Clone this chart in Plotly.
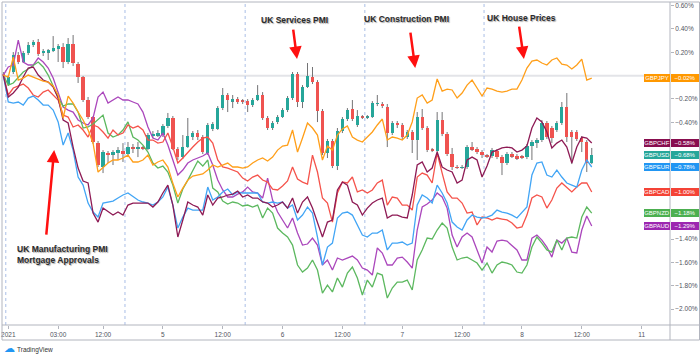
import plotly.graph_objects as go

# ---------------- data (percent change, hourly bars) ----------------
BARS = list(range(119))

OPEN = [0.014, -0.072, 0.031, 0.177, 0.117, 0.194, 0.262, 0.288, 0.194, 0.202,
        0.211, 0.228, 0.245, 0.117, 0.271, 0.099, -0.012, -0.209, -0.355, -0.578,
        -0.783, -0.663, -0.672, -0.663, -0.646, -0.672, -0.620, -0.625, -0.620, -0.629,
        -0.518, -0.509, -0.509, -0.432, -0.363, -0.629, -0.698, -0.612, -0.526, -0.492,
        -0.526, -0.663, -0.458, -0.458, -0.278, -0.166, -0.218, -0.201, -0.218, -0.218,
        -0.252, -0.209, -0.166, -0.363, -0.449, -0.398, -0.355, -0.295, -0.192, 0.014,
        -0.226, -0.098, -0.012, -0.055, -0.303, -0.663, -0.560, -0.775, -0.475, -0.372,
        -0.286, -0.423, -0.355, -0.359, -0.355, -0.243, -0.243, -0.269, -0.492, -0.406,
        -0.423, -0.526, -0.483, -0.552, -0.355, -0.449, -0.638, -0.646, -0.380, -0.500,
        -0.672, -0.783, -0.788, -0.783, -0.612, -0.629, -0.655, -0.689, -0.689, -0.646,
        -0.698, -0.749, -0.672, -0.689, -0.698, -0.698, -0.603, -0.569, -0.552, -0.406,
        -0.449, -0.466, -0.406, -0.269, -0.483, -0.483, -0.535, -0.569, -0.749]
HIGH = [0.031, 0.005, 0.202, 0.202, 0.211, 0.288, 0.305, 0.314, 0.228, 0.228,
        0.339, 0.271, 0.279, 0.322, 0.348, 0.117, -0.003, -0.183, -0.346, -0.560,
        -0.638, -0.646, -0.638, -0.612, -0.578, -0.569, -0.586, -0.569, -0.603, -0.492,
        -0.475, -0.466, -0.415, -0.320, -0.346, -0.612, -0.509, -0.363, -0.475, -0.466,
        -0.509, -0.406, -0.398, -0.261, -0.106, -0.149, -0.166, -0.183, -0.201, -0.201,
        -0.192, -0.081, -0.141, -0.346, -0.389, -0.338, -0.278, -0.175, 0.031, 0.031,
        -0.081, 0.108, 0.074, -0.038, -0.286, -0.543, -0.543, -0.449, -0.355, -0.278,
        -0.209, -0.295, -0.338, -0.338, -0.218, -0.166, -0.226, -0.243, -0.389, -0.389,
        -0.406, -0.466, -0.466, -0.312, -0.286, -0.432, -0.620, -0.312, -0.312, -0.483,
        -0.620, -0.766, -0.766, -0.595, -0.569, -0.612, -0.638, -0.672, -0.620, -0.629,
        -0.680, -0.655, -0.655, -0.672, -0.680, -0.586, -0.552, -0.535, -0.380, -0.389,
        -0.432, -0.389, -0.226, -0.149, -0.466, -0.466, -0.518, -0.552, -0.620]
LOW = [-0.021, -0.089, 0.014, 0.099, 0.108, 0.177, 0.245, 0.168, 0.168, 0.134,
       0.202, 0.117, 0.065, 0.099, 0.082, -0.063, -0.226, -0.372, -0.586, -0.783,
       -0.835, -0.749, -0.766, -0.723, -0.740, -0.698, -0.663, -0.698, -0.638, -0.638,
       -0.535, -0.526, -0.526, -0.449, -0.638, -0.723, -0.715, -0.620, -0.552, -0.552,
       -0.672, -0.680, -0.475, -0.466, -0.295, -0.312, -0.278, -0.243, -0.243, -0.312,
       -0.269, -0.218, -0.380, -0.466, -0.466, -0.415, -0.363, -0.312, -0.209, -0.269,
       -0.278, -0.106, -0.072, -0.398, -0.680, -0.706, -0.792, -0.809, -0.492, -0.389,
       -0.389, -0.440, -0.372, -0.372, -0.363, -0.261, -0.278, -0.612, -0.509, -0.449,
       -0.552, -0.543, -0.663, -0.723, -0.466, -0.655, -0.655, -0.655, -0.518, -0.689,
       -0.809, -0.800, -0.800, -0.800, -0.646, -0.672, -0.706, -0.706, -0.706, -0.715,
       -0.852, -0.766, -0.706, -0.723, -0.715, -0.715, -0.723, -0.620, -0.569, -0.543,
       -0.578, -0.483, -0.423, -0.569, -0.758, -0.560, -0.655, -0.826, -0.758]
CLOSE = [-0.003, -0.012, 0.177, 0.117, 0.194, 0.262, 0.288, 0.185, 0.211, 0.219,
         0.237, 0.254, 0.117, 0.271, 0.108, -0.012, -0.209, -0.355, -0.569, -0.766,
         -0.655, -0.680, -0.655, -0.638, -0.672, -0.612, -0.625, -0.620, -0.625, -0.509,
         -0.500, -0.492, -0.432, -0.363, -0.629, -0.698, -0.612, -0.518, -0.492, -0.526,
         -0.655, -0.423, -0.415, -0.278, -0.166, -0.209, -0.201, -0.226, -0.222, -0.252,
         -0.209, -0.166, -0.363, -0.449, -0.406, -0.355, -0.295, -0.192, 0.014, -0.226,
         -0.098, -0.003, -0.055, -0.303, -0.663, -0.560, -0.775, -0.475, -0.372, -0.295,
         -0.372, -0.346, -0.359, -0.355, -0.235, -0.235, -0.261, -0.492, -0.406, -0.423,
         -0.526, -0.483, -0.552, -0.355, -0.449, -0.638, -0.642, -0.380, -0.500, -0.672,
         -0.783, -0.788, -0.783, -0.612, -0.629, -0.655, -0.680, -0.693, -0.638, -0.698,
         -0.749, -0.672, -0.689, -0.706, -0.702, -0.603, -0.569, -0.552, -0.406, -0.526,
         -0.535, -0.406, -0.269, -0.526, -0.526, -0.543, -0.569, -0.749, -0.680]

GBPJPY = [0.005, -0.012, 0.159, -0.038, -0.021, 0.005, -0.012, -0.029, -0.047, -0.055,
          -0.089, -0.166, -0.363, -0.175, -0.235, -0.312, -0.380, -0.466, -0.578, -0.826,
          -0.783, -0.749, -0.723, -0.723, -0.706, -0.681, -0.740, -0.740, -0.723, -0.681,
          -0.766, -0.740, -0.723, -0.783, -0.921, -1.040, -0.964, -0.895, -0.860, -0.852,
          -0.843, -0.809, -0.766, -0.783, -0.766, -0.749, -0.783, -0.783, -0.792, -0.783,
          -0.749, -0.723, -0.706, -0.732, -0.698, -0.638, -0.603, -0.595, -0.466, -0.655,
          -0.535, -0.406, -0.449, -0.509, -0.723, -0.603, -0.638, -0.509, -0.457, -0.432,
          -0.526, -0.552, -0.569, -0.526, -0.483, -0.423, -0.372, -0.552, -0.526, -0.535,
          -0.552, -0.509, -0.397, -0.192, -0.166, -0.235, -0.209, -0.029, -0.132, -0.115,
          -0.123, -0.192, -0.149, -0.081, -0.038, -0.106, -0.175, -0.106, -0.115, -0.132,
          -0.141, -0.132, -0.115, -0.115, -0.038, 0.065, 0.125, 0.134, 0.108, 0.091,
          0.134, 0.151, 0.099, 0.091, 0.057, 0.091, 0.142, -0.038, -0.021]
GBPCHF = [0.005, -0.183, -0.149, -0.098, -0.012, 0.065, 0.074, 0.005, -0.038, -0.055,
          -0.098, -0.192, -0.380, -0.406, -0.612, -0.792, -0.903, -0.920, -1.178, -1.255,
          -1.135, -1.169, -1.195, -1.169, -1.195, -1.109, -1.092, -1.092, -1.092, -1.092,
          -1.126, -1.083, -1.006, -0.938, -1.109, -1.383, -1.237, -1.083, -1.109, -1.126,
          -1.195, -1.023, -1.109, -1.049, -1.040, -1.023, -1.015, -0.989, -1.040, -1.023,
          -1.049, -1.049, -1.083, -1.092, -1.126, -1.109, -1.083, -1.135, -1.049, -1.178,
          -1.083, -1.040, -1.135, -1.263, -1.383, -1.255, -1.237, -0.980, -0.912, -0.938,
          -1.083, -1.109, -1.195, -1.135, -1.092, -1.066, -1.049, -1.220, -1.195, -1.195,
          -1.212, -1.220, -1.023, -0.766, -0.740, -0.826, -0.792, -0.655, -0.783, -0.809,
          -0.826, -0.920, -0.895, -0.723, -0.698, -0.723, -0.869, -0.775, -0.655, -0.638,
          -0.620, -0.612, -0.620, -0.655, -0.638, -0.603, -0.449, -0.363, -0.397, -0.483,
          -0.620, -0.578, -0.552, -0.612, -0.749, -0.612, -0.526, -0.535, -0.578]
GBPEUR = [0.005, -0.226, -0.235, -0.226, -0.252, -0.192, -0.175, -0.209, -0.252, -0.252,
          -0.295, -0.397, -0.595, -0.492, -0.638, -0.869, -0.938, -1.092, -1.169, -1.212,
          -1.092, -1.083, -1.075, -1.049, -1.023, -1.006, -1.040, -1.066, -1.083, -1.092,
          -1.109, -1.083, -1.040, -0.955, -1.109, -1.306, -1.212, -1.135, -1.152, -1.152,
          -1.152, -0.955, -1.066, -1.040, -0.997, -0.972, -1.023, -0.997, -1.006, -1.006,
          -1.006, -1.006, -1.083, -1.092, -1.083, -1.092, -1.083, -1.135, -1.109, -1.237,
          -1.195, -1.126, -1.178, -1.383, -1.623, -1.469, -1.435, -1.220, -1.178, -1.169,
          -1.195, -1.280, -1.366, -1.383, -1.349, -1.349, -1.323, -1.494, -1.435, -1.435,
          -1.426, -1.452, -1.435, -1.109, -1.023, -1.049, -1.092, -0.938, -1.006, -1.092,
          -1.255, -1.297, -1.323, -1.237, -1.195, -1.212, -1.220, -1.212, -1.195, -1.152,
          -1.169, -1.178, -1.195, -1.220, -1.169, -1.126, -0.852, -0.749, -0.740, -0.852,
          -0.869, -0.809, -0.869, -0.920, -0.938, -0.955, -0.809, -0.723, -0.783]
GBPCAD = [0.005, -0.166, -0.106, -0.089, -0.072, -0.106, -0.166, -0.183, -0.141, -0.123,
          -0.166, -0.209, -0.338, -0.355, -0.440, -0.423, -0.466, -0.526, -0.423, -0.440,
          -0.483, -0.535, -0.466, -0.509, -0.492, -0.423, -0.449, -0.432, -0.466, -0.552,
          -0.552, -0.578, -0.569, -0.492, -0.612, -0.749, -0.706, -0.655, -0.612, -0.569,
          -0.535, -0.526, -0.578, -0.723, -0.783, -0.792, -0.809, -0.826, -0.878, -0.903,
          -0.869, -0.852, -0.895, -0.912, -0.972, -0.980, -0.946, -0.903, -0.783, -0.886,
          -0.912, -0.929, -0.681, -0.826, -1.049, -1.092, -1.255, -1.006, -0.912, -0.920,
          -0.869, -0.997, -0.980, -1.006, -0.980, -0.920, -0.895, -1.109, -1.040, -1.049,
          -1.109, -1.109, -1.152, -0.869, -0.835, -0.852, -0.920, -0.663, -0.835, -0.997,
          -1.049, -1.049, -1.092, -1.178, -1.169, -1.280, -1.212, -1.220, -1.237, -1.220,
          -1.229, -1.237, -1.263, -1.306, -1.297, -1.195, -1.049, -1.023, -1.040, -1.135,
          -1.066, -0.964, -0.920, -0.955, -0.997, -0.955, -0.920, -0.920, -0.997]
GBPNZD = [0.005, -0.081, -0.063, -0.012, 0.031, 0.057, 0.091, 0.117, 0.074, 0.005,
          -0.089, -0.192, -0.261, -0.243, -0.243, -0.312, -0.449, -0.440, -0.415, -0.380,
          -0.338, -0.492, -0.526, -0.509, -0.466, -0.397, -0.526, -0.552, -0.595, -0.655,
          -0.749, -0.792, -0.775, -0.826, -0.938, -1.092, -0.972, -0.895, -0.809, -0.732,
          -0.775, -0.723, -0.964, -0.997, -1.075, -1.100, -1.083, -1.092, -1.117, -1.109,
          -1.126, -1.109, -1.220, -1.135, -1.178, -1.306, -1.349, -1.383, -1.452, -1.623,
          -1.683, -1.649, -1.580, -1.666, -1.863, -1.795, -1.854, -1.734, -1.812, -1.692,
          -1.640, -1.734, -1.880, -1.752, -1.812, -1.692, -1.709, -1.906, -1.820, -1.769,
          -1.769, -1.752, -1.837, -1.580, -1.494, -1.392, -1.400, -1.323, -1.263, -1.306,
          -1.469, -1.580, -1.563, -1.555, -1.580, -1.606, -1.666, -1.606, -1.692, -1.623,
          -1.597, -1.606, -1.623, -1.683, -1.692, -1.623, -1.469, -1.383, -1.435, -1.494,
          -1.512, -1.409, -1.494, -1.392, -1.383, -1.392, -1.212, -1.126, -1.178]
GBPAUD = [0.005, 0.074, 0.091, 0.305, 0.117, 0.091, 0.091, 0.151, 0.117, 0.065,
          -0.021, -0.149, -0.269, -0.295, -0.312, -0.380, -0.406, -0.423, -0.363, -0.183,
          -0.141, -0.235, -0.209, -0.183, -0.209, -0.209, -0.226, -0.243, -0.312, -0.440,
          -0.535, -0.552, -0.492, -0.595, -0.723, -0.852, -0.809, -0.749, -0.723, -0.706,
          -0.689, -0.663, -0.766, -0.895, -0.980, -1.040, -1.040, -1.015, -0.997, -0.955,
          -0.997, -1.006, -1.049, -0.878, -1.066, -1.169, -1.237, -1.306, -1.220, -1.349,
          -1.452, -1.443, -1.392, -1.452, -1.623, -1.580, -1.666, -1.563, -1.580, -1.563,
          -1.546, -1.580, -1.649, -1.666, -1.709, -1.477, -1.520, -1.623, -1.623, -1.563,
          -1.555, -1.597, -1.649, -1.323, -1.126, -1.100, -1.066, -1.006, -1.040, -1.135,
          -1.366, -1.469, -1.383, -1.349, -1.383, -1.494, -1.606, -1.469, -1.512, -1.418,
          -1.409, -1.418, -1.452, -1.494, -1.580, -1.580, -1.392, -1.366, -1.409, -1.469,
          -1.555, -1.409, -1.435, -1.392, -1.512, -1.520, -1.323, -1.203, -1.289]

TICK_POS = [1, 11, 20, 32, 44, 56, 68, 80, 92, 104, 116, 128]
TICK_TEXT = ["2021", "03:00", "12:00", "5", "12:00", "6", "12:00", "7", "12:00", "8", "12:00", "11"]
Y_TICKS = [0.6, 0.4, 0.2, -0.2, -0.4, -1.4, -1.6, -1.8, -2.0]
SESSION_BREAKS = [0.5, 24.4, 48.5, 72.5, 96.4]

# (label, bar of event, level pointed at)
EVENTS = [("UK Services PMI", 58.9, 0.142),
          ("UK Construction PMI", 82.6, 0.065),
          ("UK House Prices", 104.4, 0.142)]
MFG_EVENT = ("UK Manufacturing PMI<br>Mortgage Approvals", 10.2, -0.638)

UP, DOWN, WICK = "#26A69A", "#EF5350", "#737375"
LINES = [("GBPAUD", GBPAUD, "#AB47BC"),
         ("GBPNZD", GBPNZD, "#5CB85F"),
         ("GBPCAD", GBPCAD, "#F5534B"),
         ("GBPEUR", GBPEUR, "#42A5F5"),
         ("GBPCHF", GBPCHF, "#8E1B55"),
         ("GBPJPY", GBPJPY, "#FF9F1A")]
BADGE_ORDER = [("GBPJPY", GBPJPY, "#FF9800"), ("GBPCHF", GBPCHF, "#880E4F"),
               ("GBPUSD", CLOSE, "#26A69A"), ("GBPEUR", GBPEUR, "#2196F3"),
               ("GBPCAD", GBPCAD, "#F44336"), ("GBPNZD", GBPNZD, "#4CAF50"),
               ("GBPAUD", GBPAUD, "#9C27B0")]

FONT = "Liberation Sans"


def pct(v):
    return ("\u2212" if v < 0 else "") + f"{abs(v):.2f}%"


def px(x):  # pixel -> paper x
    return (x - 2) / 668.0


def py(y):  # pixel -> paper y
    return (325 - y) / 323.0


fig = go.Figure()

# candle bodies
base = [min(o, c) for o, c in zip(OPEN, CLOSE)]
height = [max(abs(c - o), 0.005) for o, c in zip(OPEN, CLOSE)]
colors = [UP if c >= o else DOWN for o, c in zip(OPEN, CLOSE)]
fig.add_trace(go.Bar(x=BARS, y=height, base=base, width=0.66,
                     marker=dict(color=colors, line=dict(width=0)), hoverinfo="skip"))

# wicks
wx, wy = [], []
for i, o, h, l, c in zip(BARS, OPEN, HIGH, LOW, CLOSE):
    top, bot = max(o, c), min(o, c)
    wx += [i, i, None, i, i, None]
    wy += [h, top, None, bot, l, None]
fig.add_trace(go.Scatter(x=wx, y=wy, mode="lines", line=dict(color=WICK, width=1),
                         hoverinfo="skip"))

for name, vals, col in LINES:
    fig.add_trace(go.Scatter(x=BARS, y=vals, mode="lines", name=name,
                             line=dict(color=col, width=1.3)))

shapes = []
# zero line
shapes.append(dict(type="line", xref="paper", yref="y", x0=0, x1=1, y0=0, y1=0,
                   line=dict(color="#E3E4E8", width=2), layer="below"))
for b in SESSION_BREAKS:
    shapes.append(dict(type="line", xref="x", yref="paper", x0=b, x1=b, y0=0, y1=1,
                       line=dict(color="#A9BEE6", width=1, dash="3px,3px"), layer="below"))
# frame and axis lines
fc = "#B2B5BE"
shapes += [
    dict(type="rect", xref="paper", yref="paper", x0=0, x1=px(699.5), y0=py(340), y1=1,
         line=dict(color=fc, width=1)),
    dict(type="line", xref="paper", yref="paper", x0=1, x1=1, y0=py(340), y1=1,
         line=dict(color=fc, width=1)),
    dict(type="line", xref="paper", yref="paper", x0=0, x1=px(699.5), y0=0, y1=0,
         line=dict(color=fc, width=1)),
]

ann = []
for name, vals, col in BADGE_ORDER:
    v = vals[-1]
    ann.append(dict(xref="paper", yref="y", x=px(669.5), y=v, xanchor="right", yanchor="middle",
                    text=name, showarrow=False, bgcolor=col, width=26, height=8,
                    borderpad=0, borderwidth=0, font=dict(color="white", size=6, family=FONT)))
    ann.append(dict(xref="paper", yref="y", x=px(671), y=v, xanchor="left", yanchor="middle",
                    text=pct(v), showarrow=False, bgcolor=col, width=28, height=8,
                    borderpad=0, borderwidth=0, font=dict(color="white", size=6, family=FONT)))

txt_font = dict(family=FONT, size=8.5, color="#2B2B2B", weight="bold",
                shadow="1px 1px 1px rgba(0,0,0,0.35)")
text_pos = [(294, 20), (406, 19), (521, 18)]
tails = [(-4, -31), (-5, -37), (-5, -34)]
for (label, xb, yv), (tx, ty), (ax, ay) in zip(EVENTS, text_pos, tails):
    ann.append(dict(xref="paper", yref="paper", x=px(tx), y=py(ty), text=label,
                    showarrow=False, font=txt_font, xanchor="center", yanchor="middle"))
    ann.append(dict(xref="x", yref="y", x=xb, y=yv, text="", showarrow=True, ax=ax, ay=ay,
                    arrowcolor="#FF1010", arrowwidth=2.5, arrowhead=2, arrowsize=1, standoff=0))
label, xb, yv = MFG_EVENT
ann.append(dict(xref="paper", yref="paper", x=px(15), y=py(254), text=label, align="left",
                showarrow=False, font=txt_font, xanchor="left", yanchor="middle"))
ann.append(dict(xref="x", yref="y", x=xb, y=yv, text="", showarrow=True, ax=-8, ay=86,
                arrowcolor="#FF1010", arrowwidth=2.5, arrowhead=2, arrowsize=1, standoff=0))

# TradingView logo
ann.append(dict(xref="paper", yref="paper", x=px(2), y=py(348), text="\u2601", showarrow=False,
                xanchor="left", yanchor="middle", font=dict(size=11, color="#2196F3", family="DejaVu Sans")))
ann.append(dict(xref="paper", yref="paper", x=px(15), y=py(349.5), text="TradingView", showarrow=False,
                xanchor="left", yanchor="middle", font=dict(size=6.5, color="#333", family=FONT)))

fig.update_layout(
    width=700, height=357, margin=dict(l=2, r=30, t=2, b=32, autoexpand=False),
    paper_bgcolor="white", plot_bgcolor="white", showlegend=False,
    shapes=shapes, annotations=ann, bargap=0,
    xaxis=dict(range=[-0.26, 133.69], tickvals=TICK_POS, ticktext=TICK_TEXT,
               showgrid=False, zeroline=False, showline=False, ticks="outside", ticklen=3,
               tickcolor=fc, tickfont=dict(size=6.5, color="#50535E", family=FONT),
               rangeslider=dict(visible=False)),
    yaxis=dict(side="right", range=[-2.137, 0.631], tickvals=Y_TICKS,
               ticktext=[pct(v) for v in Y_TICKS], showgrid=False, zeroline=False,
               showline=False, ticks="outside", ticklen=3, tickcolor=fc,
               tickfont=dict(size=6.5, color="#50535E", family=FONT)),
)

fig.write_html("out.html", config={"displayModeBar": False},
               post_script="document.body.style.margin='0px';document.body.style.overflow='hidden';")
